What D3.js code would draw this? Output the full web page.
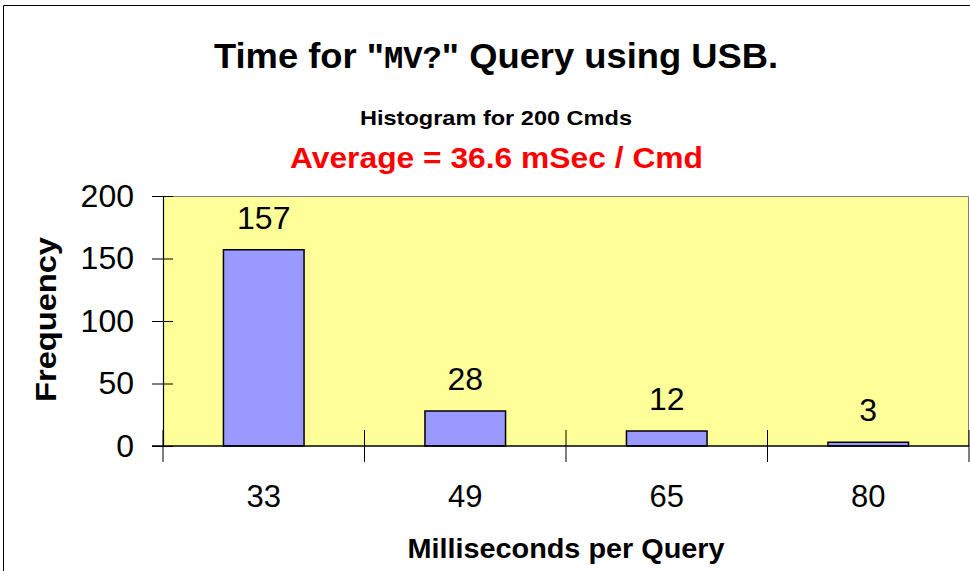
<!DOCTYPE html>
<html><head><meta charset="utf-8">
<script src="https://cdn.jsdelivr.net/npm/d3@7"></script>
<style>body{margin:0;background:#fff;}svg{display:block;font-family:"Liberation Sans",Arial,sans-serif;}</style>
</head><body>
<svg id="c" width="970" height="571"></svg>
<script>
const categories = ["33", "49", "65", "80"];
const frequencies = [157, 28, 12, 3];
const yTicks = [0, 50, 100, 150, 200];

const svg = d3.select("#c");
const W = 970, H = 571;
const plot = {l: 163, r: 969, t: 196, b: 446};

// outer frame
svg.append("path").attr("d", `M3.5,${H} V5.5 H${W}`).attr("fill","none").attr("stroke","#000").attr("stroke-width",1);

const x = d3.scaleBand().domain(categories).range([plot.l, plot.r]).paddingInner(0.6).paddingOuter(0.3);
const xb = d3.scaleBand().domain(categories).range([plot.l, plot.r]);
const y = d3.scaleLinear().domain([0, 200]).range([plot.b, plot.t]);

svg.append("rect").attr("x", plot.l).attr("y", plot.t).attr("width", plot.r-plot.l).attr("height", plot.b-plot.t)
  .attr("fill", "#FFFF99");
svg.append("path").attr("d", `M${plot.l},${plot.t+0.5} H${plot.r-0.5} V${plot.b}`).attr("fill","none").attr("stroke","#808080").attr("stroke-width",1);

// bars
svg.selectAll("rect.bar").data(frequencies).join("rect").attr("class","bar")
  .attr("x", (d,i)=>x(categories[i])).attr("width", x.bandwidth())
  .attr("y", d=>y(d)).attr("height", d=>plot.b-y(d))
  .attr("fill", "#9999FF").attr("stroke", "#000").attr("stroke-width", 1.5);

// value labels
svg.selectAll("text.val").data(frequencies).join("text").attr("class","val")
  .attr("x", (d,i)=>x(categories[i])+x.bandwidth()/2).attr("y", d=>y(d)-21)
  .attr("text-anchor","middle").attr("font-size", 32).attr("fill","#000").text(d=>d);

// y axis
const yAxis = d3.axisLeft(y).tickValues(yTicks).tickSize(0).tickPadding(29);
const ya = svg.append("g").attr("transform", `translate(${plot.l},0)`).call(yAxis);
ya.select(".domain").attr("stroke","#000").attr("stroke-width",1.2);
ya.selectAll(".tick text").attr("font-size", 32).attr("font-family","Liberation Sans, Arial, sans-serif").attr("fill","#000");
ya.selectAll(".tick").append("line").attr("x1",-11).attr("x2",10).attr("stroke","#000").attr("stroke-width",1);

// x axis
const xAxis = d3.axisBottom(xb).tickSize(0).tickPadding(39);
const xa = svg.append("g").attr("transform", `translate(0,${plot.b})`).call(xAxis);
xa.select(".domain").remove();
xa.append("line").attr("x1", plot.l-11).attr("x2", plot.r).attr("stroke","#000").attr("stroke-width",1.5);
xa.selectAll(".tick text").attr("font-size", 31).attr("font-family","Liberation Sans, Arial, sans-serif").attr("fill","#000");
const bounds = categories.map(c=>xb(c)).concat([plot.r]);
xa.selectAll("line.b").data(bounds).join("line").attr("class","b")
  .attr("x1", d=>d).attr("x2", d=>d).attr("y1", -16).attr("y2", 16).attr("stroke","#000").attr("stroke-width",1);

// titles
const title = svg.append("text").attr("x", 496).attr("y", 68).attr("text-anchor","middle")
  .attr("font-size", 35).attr("font-weight","bold").attr("fill","#000")
  .attr("textLength", 564).attr("lengthAdjust","spacingAndGlyphs");
title.append("tspan").text('Time for "');
title.append("tspan").attr("font-family","Liberation Mono, Courier New, monospace").attr("font-size", 31).text("MV?");
title.append("tspan").text('" Query using USB.');

svg.append("text").attr("x", 496).attr("y", 125).attr("text-anchor","middle")
  .attr("font-size", 21).attr("font-weight","bold").attr("fill","#000")
  .attr("textLength", 272).attr("lengthAdjust","spacingAndGlyphs").text("Histogram for 200 Cmds");
svg.append("text").attr("x", 496.5).attr("y", 168).attr("text-anchor","middle")
  .attr("font-size", 29).attr("font-weight","bold").attr("fill","#FF0000")
  .attr("textLength", 413).attr("lengthAdjust","spacingAndGlyphs").text("Average = 36.6 mSec / Cmd");

svg.append("text").attr("x", 566).attr("y", 558).attr("text-anchor","middle")
  .attr("font-size", 28).attr("font-weight","bold").attr("fill","#000")
  .attr("textLength", 317).attr("lengthAdjust","spacingAndGlyphs").text("Milliseconds per Query");
svg.append("text").attr("transform", `translate(56,319.5) rotate(-90)`).attr("text-anchor","middle")
  .attr("font-size", 30).attr("font-weight","bold").attr("fill","#000")
  .attr("textLength", 165).attr("lengthAdjust","spacingAndGlyphs").text("Frequency");
</script>
</body></html>
